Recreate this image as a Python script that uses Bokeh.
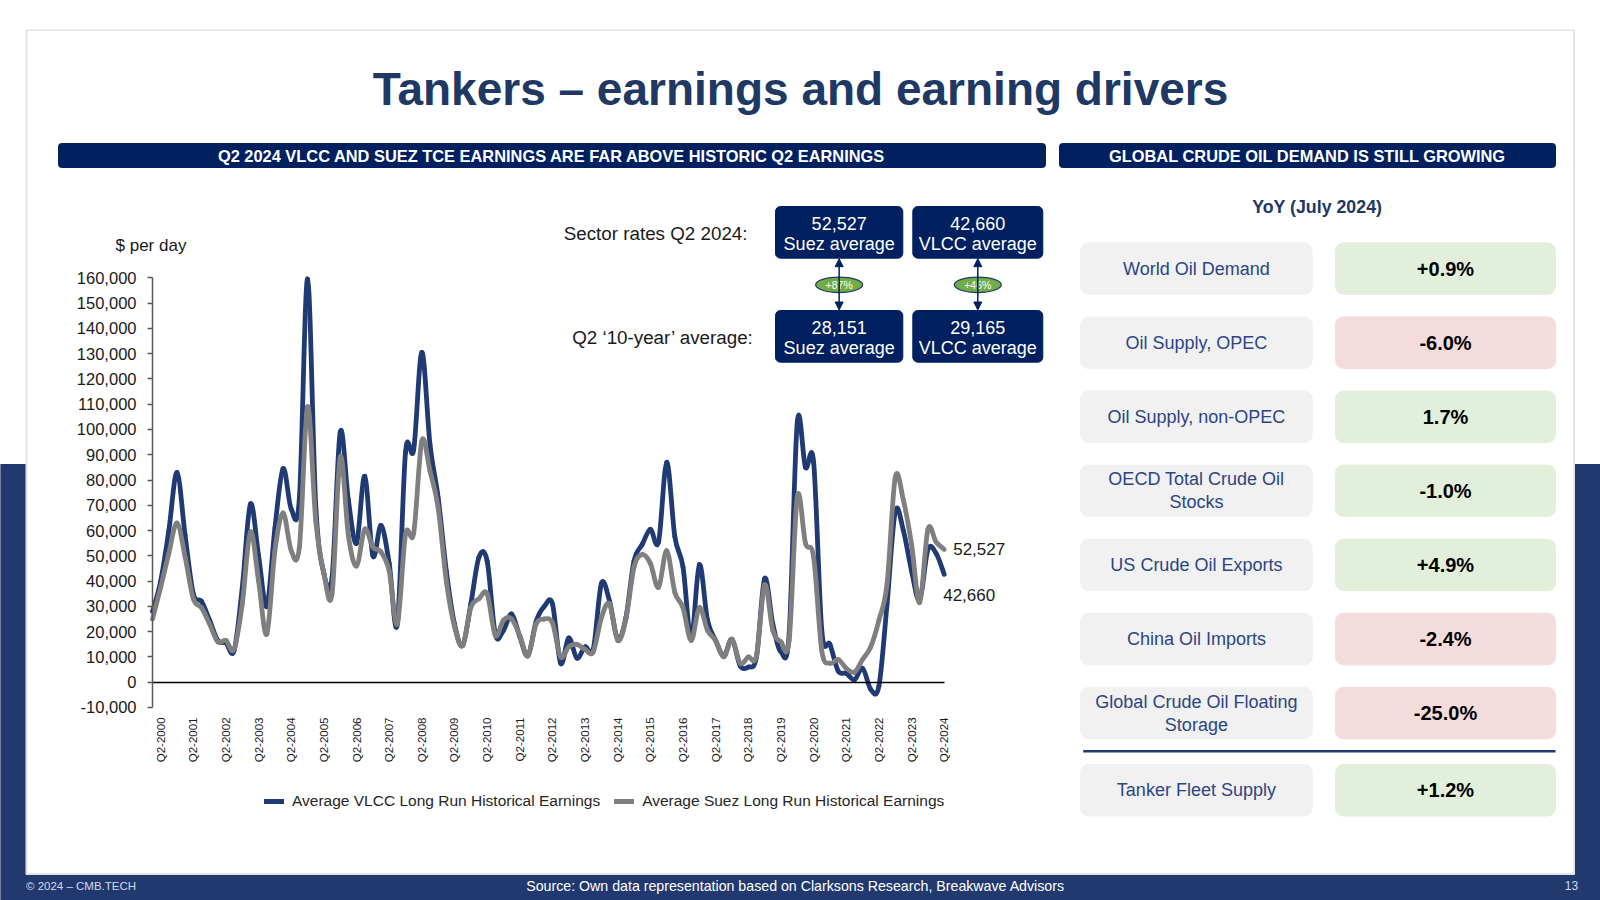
import math
from bokeh.plotting import figure
from bokeh.models import (Range1d, LinearAxis, SingleIntervalTicker, FixedTicker,
                          NumeralTickFormatter, Legend, LegendItem, Arrow, NormalHead)
from bokeh.core.properties import value
from bokeh.embed import file_html
from bokeh.resources import INLINE

# ---------------- data ----------------
quarters = [f"Q{q}-{y}" for y in range(2000, 2025) for q in range(1, 5)][:98]  # Q1-2000 .. Q2-2024

vlcc = [28000, 40000, 60000, 83000, 58000, 35000, 32000, 24500, 16500, 15500,
        12500, 37500, 70500, 50000, 30000, 61000, 84500, 68500, 73000, 159500,
        70000, 43000, 41500, 99000, 72000, 55000, 81500, 50000, 62000, 47000,
        23000, 91000, 92000, 130500, 94000, 73000, 44000, 23000, 14500, 31000,
        49500, 48000, 19000, 20500, 27000, 18000, 10500, 24000, 30000, 31000,
        7500, 17500, 9500, 14000, 13000, 39000, 32000, 17000, 25500, 48000,
        54500, 60500, 55500, 87000, 57500, 45500, 17000, 46500, 24500, 16500,
        10500, 17000, 6500, 6000, 10000, 41000, 23000, 12000, 19000, 103000,
        85000, 87000, 20500, 15000, 4500, 3500, 1000, 5500, -2800, -1500,
        31000, 67500, 60000, 44000, 32500, 52500, 51000, 42660]

suez = [25000, 37500, 51000, 63000, 49500, 33000, 29500, 23000, 16000, 16500,
        13000, 31000, 59500, 40000, 19000, 52000, 67000, 52000, 53500, 109000,
        64000, 43000, 35000, 89000, 58000, 46000, 60500, 53500, 51500, 44000,
        23000, 58500, 59000, 95500, 83500, 69000, 40000, 22000, 14500, 29500,
        33000, 35000, 18500, 24500, 25000, 18500, 10500, 23000, 25000, 23500,
        10000, 14000, 15000, 13000, 12000, 25500, 31000, 16500, 25000, 45500,
        50500, 47000, 37500, 52000, 35500, 29500, 16500, 29500, 20500, 16500,
        10000, 17000, 7500, 10000, 10500, 38500, 20500, 16000, 16500, 73500,
        55000, 49500, 12500, 7500, 9000, 5500, 4000, 9000, 14000, 24500,
        39000, 81000, 72000, 54500, 31500, 60500, 55500, 52527]

series_names = ["Average VLCC Long Run Historical Earnings",
                "Average Suez Long Run Historical Earnings"]

box_types = ["Suez average", "VLCC average"]
q2_2024 = [52527, 42660]
q2_10yr = [28151, 29165]
pct_change = ["+87%", "+46%"]
row_titles = ["Sector rates Q2 2024:", "Q2 \u201810-year\u2019 average:"]

table_labels = ["World Oil Demand", "Oil Supply, OPEC", "Oil Supply, non-OPEC",
                "OECD Total Crude Oil\nStocks", "US Crude Oil Exports",
                "China Oil Imports", "Global Crude Oil Floating\nStorage",
                "Tanker Fleet Supply"]
table_values = ["+0.9%", "-6.0%", "1.7%", "-1.0%", "+4.9%", "-2.4%", "-25.0%", "+1.2%"]
table_good = [True, False, True, True, True, False, False, True]

TITLE = "Tankers \u2013 earnings and earning drivers"
HDR_LEFT = "Q2 2024 VLCC AND SUEZ TCE EARNINGS ARE FAR ABOVE HISTORIC Q2 EARNINGS"
HDR_RIGHT = "GLOBAL CRUDE OIL DEMAND IS STILL GROWING"
TABLE_TITLE = "YoY (July 2024)"
FOOT_LEFT = "\u00a9 2024 \u2013 CMB.TECH"
FOOT_SRC = "Source:  Own data representation based on Clarksons Research, Breakwave Advisors"
FOOT_PAGE = "13"

# ---------------- styles / layout ----------------
NAVY_BG = "#21396f"
TITLE_C = "#203864"
BLUE = "#203a74"
GREY = "#7f7f7f"
TXT = "#1a1a1a"
FONT_NAME = "Liberation Sans"
FONT = value(FONT_NAME)

LEFT, RIGHT, TOP, BOTTOM = 0, 1600, 0, 900
X0, XSTEP = 152.0, 8.162            # pixel of Q1-2000, pixels per quarter
Y0, YSCALE = 681.7, 404.4 / 160000  # pixel of zero, pixels per $

p = figure(width=RIGHT - LEFT, height=BOTTOM - TOP,
           x_range=Range1d(LEFT, RIGHT), y_range=Range1d(BOTTOM, TOP),
           x_axis_type=None, y_axis_type=None, min_border=0,
           toolbar_location=None, output_backend="svg",
           background_fill_color="white", border_fill_color="white")
p.outline_line_color = None
p.extra_x_ranges = {"q": Range1d((LEFT - X0) / XSTEP, (RIGHT - X0) / XSTEP)}
p.extra_y_ranges = {"v": Range1d((Y0 - BOTTOM) / YSCALE, (Y0 - TOP) / YSCALE)}


def rquad(radius, **kw):
    try:
        return p.quad(border_radius=radius, **kw)
    except Exception:
        return p.quad(**kw)


def smooth(xs, ys):
    """Cubic Bezier segments through every data point (spreadsheet-style smoothed line)."""
    n = len(xs)
    seg = {k: [] for k in ("x0", "y0", "x1", "y1", "cx0", "cy0", "cx1", "cy1")}
    for i in range(n - 1):
        a, b = max(i - 1, 0), min(i + 2, n - 1)
        seg["x0"].append(xs[i]); seg["y0"].append(ys[i])
        seg["x1"].append(xs[i + 1]); seg["y1"].append(ys[i + 1])
        seg["cx0"].append(xs[i] + (xs[i + 1] - xs[a]) / 6)
        seg["cy0"].append(ys[i] + (ys[i + 1] - ys[a]) / 6)
        seg["cx1"].append(xs[i + 1] - (xs[b] - xs[i]) / 6)
        seg["cy1"].append(ys[i + 1] - (ys[b] - ys[i]) / 6)
    return seg


# background / card
p.quad(left=[LEFT], right=[RIGHT], top=[464], bottom=[BOTTOM], color=NAVY_BG)
p.quad(left=[25.5], right=[1574], top=[29.5], bottom=[874], color="#e4e4e4")
p.quad(left=[27.5], right=[1572], top=[31], bottom=[872], color="white")

# title and headers
p.text(x=[800], y=[88], text=[TITLE], text_font=FONT, text_font_style="bold",
       text_font_size="46px", text_color=TITLE_C, text_align="center",
       text_baseline="middle")
rquad(3, left=[58, 1059], right=[1045, 1555], top=[143, 143], bottom=[167, 167], color="#002060")
p.text(x=[551.5, 1307], y=[155.5, 155.5], text=[HDR_LEFT, HDR_RIGHT], text_font=FONT,
       text_font_style="bold", text_font_size="16.4px", text_color="white",
       text_align="center", text_baseline="middle")

# ---------------- line chart ----------------
idx = list(range(len(quarters)))
q2_idx = [i for i, q in enumerate(quarters) if q.startswith("Q2")]

r_v = p.bezier(**smooth(idx, vlcc), x_range_name="q", y_range_name="v", line_color=BLUE,
               line_width=4.8, line_cap="round")
r_s = p.bezier(**smooth(idx, suez), x_range_name="q", y_range_name="v", line_color=GREY,
               line_width=4.8, line_cap="round")

yax = LinearAxis(x_range_name="q", y_range_name="v", fixed_location=0,
                 bounds=(-10000, 160000),
                 ticker=SingleIntervalTicker(interval=10000, num_minor_ticks=0),
                 formatter=NumeralTickFormatter(format="0,0"))
yax.axis_line_color = "#595959"
yax.axis_line_width = 1.5
yax.major_tick_line_color = "#595959"
yax.major_tick_line_width = 1.5
yax.major_tick_out = 5
yax.major_tick_in = 0
yax.minor_tick_line_color = None
yax.major_label_text_font = FONT_NAME
yax.major_label_text_font_size = "16.5px"
yax.major_label_text_color = TXT
yax.major_label_standoff = 11
p.add_layout(yax, "left")

zax = LinearAxis(x_range_name="q", y_range_name="v", fixed_location=0,
                 bounds=(0, len(quarters) - 1), ticker=FixedTicker(ticks=[]))
zax.axis_line_color = "black"
zax.axis_line_width = 1.3
zax.major_tick_line_color = None
zax.minor_tick_line_color = None
zax.major_label_text_font_size = "0px"
p.add_layout(zax, "below")

xax = LinearAxis(x_range_name="q", y_range_name="v", fixed_location=-10000,
                 ticker=FixedTicker(ticks=q2_idx),
                 major_label_overrides={i: quarters[i] for i in q2_idx})
xax.major_label_orientation = math.pi / 2
xax.axis_line_color = None
xax.major_tick_line_color = None
xax.minor_tick_line_color = None
xax.major_label_standoff = 4
xax.major_label_text_font = FONT_NAME
xax.major_label_text_font_size = "11.5px"
xax.major_label_text_color = TXT
p.add_layout(xax, "below")

p.text(x=[115], y=[245], text=["$ per day"], text_font=FONT, text_font_size="17px",
       text_color=TXT, text_align="left", text_baseline="middle")

# end-of-series labels
p.text(x=[idx[-1]], y=[suez[-1]], text=[f"{suez[-1]:,}"], x_range_name="q", y_range_name="v",
       x_offset=9, y_offset=0, text_font=FONT, text_font_size="17px", text_color=TXT,
       text_align="left", text_baseline="middle")
p.text(x=[idx[-1]], y=[vlcc[-1]], text=[f"{vlcc[-1]:,}"], x_range_name="q", y_range_name="v",
       x_offset=-1, y_offset=21, text_font=FONT, text_font_size="17px", text_color=TXT,
       text_align="left", text_baseline="middle")

legend = Legend(items=[LegendItem(label=series_names[0], renderers=[r_v]),
                       LegendItem(label=series_names[1], renderers=[r_s])],
                orientation="horizontal", location=(264, 90), padding=0, margin=0,
                spacing=14, label_standoff=8, glyph_width=20, glyph_height=18,
                label_height=18, border_line_color=None, background_fill_alpha=0,
                label_text_font=FONT_NAME, label_text_font_size="15.5px",
                label_text_color="#262626")
p.add_layout(legend, "center")

# ---------------- sector-rate boxes ----------------
box_l = [775, 912.3]
box_r = [902.3, 1042.3]
box_cx = [(a + b) / 2 for a, b in zip(box_l, box_r)]
row_top = [206, 310]
BOX_H = 51.7
p.text(x=[747, 753], y=[233, 337], text=row_titles, text_font=FONT, text_font_size="18.8px",
       text_color=TXT, text_align="right", text_baseline="middle")
for r, vals in enumerate([q2_2024, q2_10yr]):
    rquad(5, left=box_l, right=box_r, top=[row_top[r]] * 2, bottom=[row_top[r] + BOX_H] * 2,
          color="#002060")
    p.text(x=box_cx, y=[row_top[r] + 17.3] * 2, text=[f"{v:,}" for v in vals], text_font=FONT,
           text_font_size="18px", text_color="white", text_align="center",
           text_baseline="middle")
    p.text(x=box_cx, y=[row_top[r] + 37.6] * 2, text=box_types, text_font=FONT,
           text_font_size="18px", text_color="white", text_align="center",
           text_baseline="middle")

for cx in box_cx:
    p.add_layout(Arrow(x_start=cx, y_start=row_top[0] + BOX_H + 0.5, x_end=cx,
                       y_end=row_top[1] - 0.5, line_color="#002060", line_width=1.5,
                       start=NormalHead(size=8, fill_color="#002060", line_color="#002060"),
                       end=NormalHead(size=8, fill_color="#002060", line_color="#002060")))
p.ellipse(x=box_cx, y=[284.3] * 2, width=47, height=15.5, fill_color="#70ad47",
          line_color="#1f3a74", line_width=1.2)
p.text(x=box_cx, y=[284.8] * 2, text=pct_change, text_font=FONT, text_font_size="10.5px",
       text_color="white", text_align="center", text_baseline="middle")

# ---------------- right table ----------------
p.text(x=[1316.7], y=[206.7], text=[TABLE_TITLE], text_font=FONT, text_font_style="bold",
       text_font_size="17.8px", text_color=TITLE_C, text_align="center", text_baseline="middle")
ROW_H = 51.5
tops = [242.3 + 74.1 * k for k in range(7)] + [764]
for k, (lab, val, good) in enumerate(zip(table_labels, table_values, table_good)):
    t = tops[k]
    rquad(8, left=[1080], right=[1311.7], top=[t], bottom=[t + ROW_H], color="#f1f1f1")
    rquad(8, left=[1335], right=[1555], top=[t], bottom=[t + ROW_H],
          color="#e2efda" if good else "#f5dcdc")
    p.text(x=[1195.9], y=[t + ROW_H / 2], text=[lab], text_font=FONT, text_font_size="18px",
           text_color="#2b4585", text_align="center", text_baseline="middle",
           text_line_height=1.15)
    p.text(x=[1445], y=[t + ROW_H / 2], text=[val], text_font=FONT, text_font_style="bold",
           text_font_size="20px", text_color="black", text_align="center",
           text_baseline="middle")
p.segment(x0=[1082.7], y0=[750.7], x1=[1555], y1=[750.7], line_color=BLUE, line_width=2.5)

# ---------------- footer ----------------
p.text(x=[25.5], y=[885], text=[FOOT_LEFT], text_font=FONT, text_font_size="11.5px",
       text_color="#d5daea", text_align="left", text_baseline="middle")
p.text(x=[797], y=[885], text=[FOOT_SRC], text_font=FONT, text_font_size="14.2px",
       text_color="white", text_align="center", text_baseline="middle")
p.text(x=[1571], y=[885], text=[FOOT_PAGE], text_font=FONT, text_font_size="12px",
       text_color="#d5daea", text_align="center", text_baseline="middle")

open("out.html", "w").write(file_html(p, INLINE, title="Tankers - earnings and earning drivers"))
